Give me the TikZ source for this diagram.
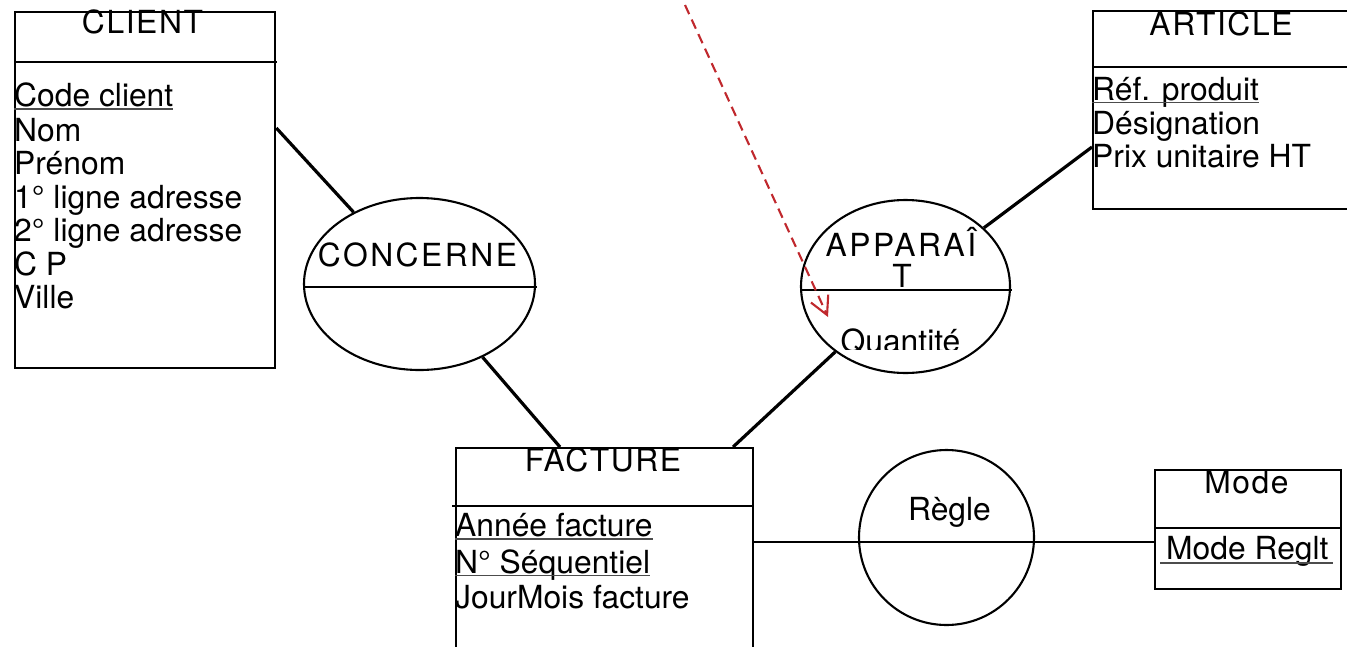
\documentclass[tikz,border=0pt]{standalone}
\usepackage{fontspec}
\setmainfont{TeX Gyre Heros}
\newfontfamily\spacedfont[LetterSpace=8]{TeX Gyre Heros}
\newfontfamily\titfont[LetterSpace=5]{TeX Gyre Heros}
\usetikzlibrary{arrows.meta,shapes.geometric,calc}
\definecolor{arrowred}{RGB}{192,40,45}
\begin{document}
\begin{tikzpicture}[x=1pt,y=-1pt,
  txt/.style={inner sep=0pt, font=\fontsize{31.8}{33.5}\selectfont},
  ttl/.style={txt, anchor=base, font=\fontsize{31.8}{33.5}\selectfont\titfont},
  sttl/.style={txt, anchor=base, font=\fontsize{31.8}{33.5}\selectfont\spacedfont},
  ctr/.style={txt, anchor=base},
  attr/.style={txt, anchor=base west},
  entbox/.style={draw, line width=2.3pt, rectangle, inner sep=0pt, anchor=north west},
  assoc/.style={draw, line width=2.1pt, ellipse, inner sep=0pt},
  sepline/.style={line width=2.3pt},
  link/.style={line width=3.2pt},
  hlink/.style={line width=2.5pt},
  uline/.style={line width=1.4pt, black!70},
  deparrow/.style={arrowred, line width=2.1pt, dash pattern=on 10pt off 6pt, -{Straight Barb[length=18pt,width=19pt]}}
]
\useasboundingbox (0,0) rectangle (1347,646);
\clip (0,0) rectangle (1347,646);

% entity boxes
\node[entbox, minimum width=260pt, minimum height=356pt] (client) at (14,11) {};
\node[entbox, minimum width=260pt, minimum height=198pt] (article) at (1092,10) {};
\node[entbox, minimum width=297pt, minimum height=213pt] (facture) at (455,447) {};
\node[entbox, minimum width=186pt, minimum height=119pt] (mode) at (1154,469) {};
% associations
\node[assoc, minimum width=231pt, minimum height=172pt] (concerne) at (419.5,284) {};
\node[assoc, minimum width=209pt, minimum height=173pt] (apparait) at (905.5,286.5) {};
\node[assoc, circle, minimum size=175pt] (regle) at (946.5,537.5) {};

% separator lines
\draw[sepline] (14,62) -- (277,62);
\draw[sepline] (1092,67) -- (1352,67);
\draw[sepline] (452,506) -- (752,506);
\draw[sepline] (1154,528) -- (1340,528);
\draw[sepline] (304,287) -- (537,287);
\draw[sepline] (801,290) -- (1012,290);

% connectors
\draw[link] ($(client.north east)+(0,117)$) -- (concerne);
\draw[link] (concerne) -- ($(facture.north west)+(105,0)$);
\draw[link] (apparait) -- ($(article.north west)+(0,137)$);
\draw[link] (apparait) -- ($(facture.north west)+(278,0)$);
\coordinate (rl) at (946.5,542);
\draw[hlink] (facture.east |- rl) -- (mode.west |- rl);

% red dashed arrow
\coordinate (depstart) at (685,5);
\coordinate (deptip) at (828,317);
\draw[deparrow] (depstart) -- (deptip);

% CLIENT
\node[ttl] (clientT) at (142.5,33) {CLIENT};
\node[attr] (cc) at (14,106.5) {Code client};
\node[attr] (cnom) at (14,141) {Nom};
\node[attr] (cpre) at (14,174.5) {Prénom};
\node[attr] (cl1) at (14,208) {1° ligne adresse};
\node[attr] (cl2) at (14,241.5) {2° ligne adresse};
\node[attr] (ccp) at (14,275) {C P};
\node[attr] (cville) at (14,308.5) {Ville};

% ARTICLE
\node[ttl] (articleT) at (1221,35) {ARTICLE};
\node[attr] (aref) at (1092,100) {Réf. produit};
\node[attr] (ades) at (1092,134) {Désignation};
\node[attr] (aprix) at (1092,167.5) {Prix unitaire HT};

% FACTURE
\node[ttl] (factureT) at (603,471) {FACTURE};
\node[attr] (fan) at (455,536.5) {Année facture};
\node[attr] (fseq) at (455,573) {N° Séquentiel};
\node[attr] (fjm) at (455,608.5) {JourMois facture};

% Mode
\node[ttl] (modeT) at (1246.5,493) {Mode};
\node[attr] (mrg) at (1166,559) {Mode Reglt};

% associations text
\node[sttl] (concT) at (417.5,266) {CONCERNE};
\node[sttl] (appT1) at (901,256) {APPARAÎ};
\node[ctr] (appT2) at (902,287) {T};
\node[ctr] (regleT) at (949.5,520) {Règle};
\begin{scope}
\clip (800,291) rectangle (1012,349.5);
\node[ctr] (qte) at (900.5,352) {Quantité};
\end{scope}

% underlines
\foreach \n in {cc,aref,fan,fseq}
  \draw[uline] ([yshift=-2.5pt]\n.base west) -- ([yshift=-2.5pt]\n.base east);
\draw[uline] ([xshift=-6pt,yshift=-4pt]mrg.base west) -- ([xshift=4pt,yshift=-4pt]mrg.base east);
\end{tikzpicture}
\end{document}
